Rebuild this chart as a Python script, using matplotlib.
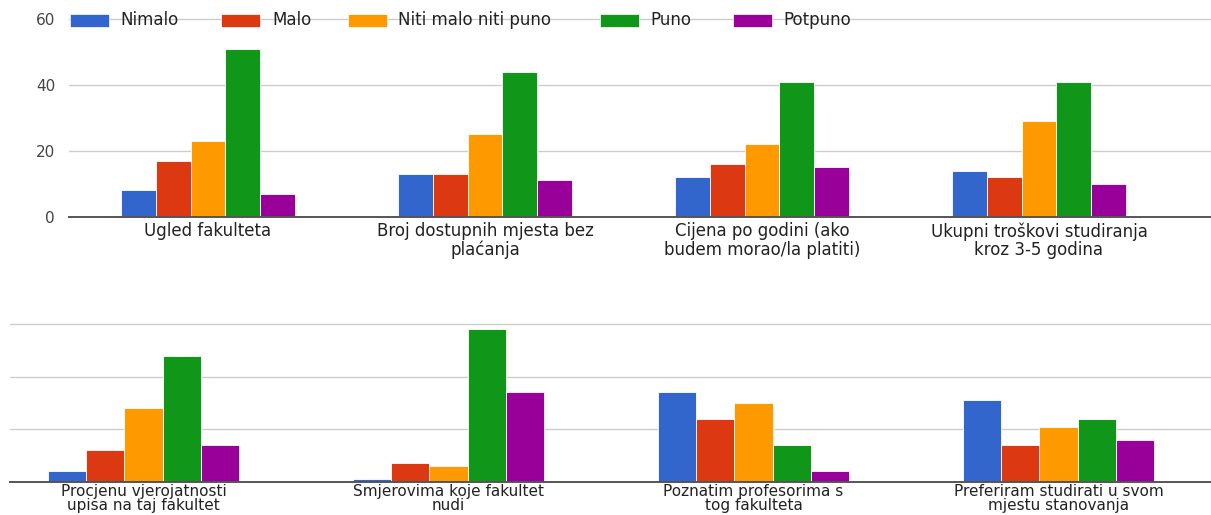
import matplotlib
matplotlib.use('Agg')
import matplotlib.pyplot as plt
import numpy as np
from matplotlib.patches import Rectangle

# series and colours (Google classic palette)
series = ['Nimalo', 'Malo', 'Niti malo niti puno', 'Puno', 'Potpuno']
colors = ['#3366cc', '#dc3912', '#ff9900', '#109618', '#990099']

top_categories = ['Ugled fakulteta',
                  'Broj dostupnih mjesta bez\nplaćanja',
                  'Cijena po godini (ako\nbudem morao/la platiti)',
                  'Ukupni troškovi studiranja\nkroz 3-5 godina']
top_nimalo = [8, 13, 12, 14]
top_malo = [17, 13, 16, 12]
top_niti = [23, 25, 22, 29]
top_puno = [51, 44, 41, 41]
top_potpuno = [7, 11, 15, 10]

bottom_categories = ['Procjenu vjerojatnosti\nupisa na taj fakultet',
                     'Smjerovima koje fakultet\nnudi',
                     'Poznatim profesorima s\ntog fakulteta',
                     'Preferiram studirati u svom\nmjestu stanovanja']
bottom_nimalo = [4, 1, 34, 31]
bottom_malo = [12, 7, 24, 14]
bottom_niti = [28, 6, 30, 21]
bottom_puno = [48, 58, 14, 24]
bottom_potpuno = [14, 34, 4, 16]

y_ticks = [0, 20, 40, 60]

W, H = 1211, 515
fig = plt.figure(figsize=(W / 100, H / 100), dpi=100)
plt.rcParams['font.family'] = ['DejaVu Sans']


def px_axes(left, right, top, bottom):
    return fig.add_axes([left / W, 1 - bottom / H, (right - left) / W, (bottom - top) / H])


def draw_panel(ax, cats, values, xlim, label_size, show_y, linespacing, pad):
    x = np.arange(len(cats))
    width = 0.125
    for k, vals in enumerate(values):
        ax.bar(x + (k - 2) * width, vals, width, color=colors[k],
               edgecolor='white', linewidth=0.6, zorder=2)
    ax.set_xlim(*xlim)
    ax.set_ylim(0, 61)
    ax.set_yticks(y_ticks)
    ax.yaxis.grid(True, color='#cccccc', linewidth=1)
    ax.set_axisbelow(True)
    for s in ax.spines.values():
        s.set_visible(False)
    ax.axhline(0, color='#555555', linewidth=1.4, zorder=3, clip_on=False)
    ax.set_xticks(x)
    ax.set_xticklabels(cats, fontsize=label_size, color='#222222', linespacing=linespacing)
    ax.tick_params(axis='x', length=0, pad=pad)
    if show_y:
        ax.set_yticklabels([str(t) for t in y_ticks], fontsize=11, color='#444444')
        ax.tick_params(axis='y', length=0, pad=10)
    else:
        ax.set_yticklabels([])
        ax.tick_params(axis='y', length=0)


# top chart
ax1 = px_axes(69, 1211, 216.7 - 61 * 3.295, 216.7)
draw_panel(ax1, top_categories,
           [top_nimalo, top_malo, top_niti, top_puno, top_potpuno],
           ((69 - 208) / 277, (1211 - 208) / 277), 12, True, 1.05, 4)

# bottom chart
ax2 = px_axes(10, 1211, 481.7 - 61 * 2.628, 481.7)
draw_panel(ax2, bottom_categories,
           [bottom_nimalo, bottom_malo, bottom_niti, bottom_puno, bottom_potpuno],
           ((10 - 143.5) / 305, (1211 - 143.5) / 305), 11, False, 0.95, 1.5)

# legend drawn on top of the 60 gridline
patch_x = [70, 221, 348, 600, 733]
text_x = [120, 272, 398, 650, 783]
for k, name in enumerate(series):
    fig.add_artist(Rectangle((patch_x[k] / W, 1 - 26.5 / H), 39 / W, 12.5 / H,
                             transform=fig.transFigure, facecolor=colors[k],
                             edgecolor='white', linewidth=0.5, zorder=5))
    fig.text(text_x[k] / W, 1 - 20 / H, name, fontsize=12, color='#222222',
             va='center', ha='left', zorder=5)

fig.savefig('out.png', dpi=100)
